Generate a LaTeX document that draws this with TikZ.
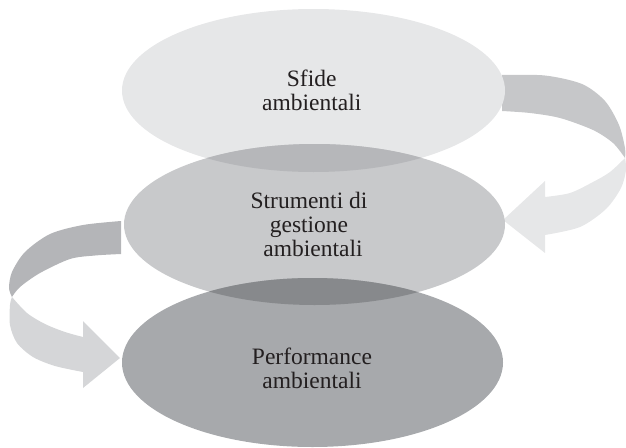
\documentclass[tikz,border=0pt]{standalone}
\usepackage{fontspec}
\setmainfont{Liberation Serif}
\usetikzlibrary{shapes.geometric}

% palette
\definecolor{ellTop}{HTML}{E6E7E8}
\definecolor{ellMid}{HTML}{C8C9CB}
\definecolor{ellBot}{HTML}{A7A9AC}
\definecolor{ovTop}{HTML}{B6B7BA}
\definecolor{ovBot}{HTML}{87898C}
\definecolor{ribRightBack}{HTML}{C6C7C9}
\definecolor{ribRightFront}{HTML}{E6E7E8}
\definecolor{ribLeftBack}{HTML}{B4B5B8}
\definecolor{ribLeftFront}{HTML}{D5D6D8}
\definecolor{ink}{HTML}{231F20}

\tikzset{
  stage/.style={ellipse, draw=none, inner sep=0pt},
  caption/.style={align=center, text=ink, inner sep=0pt,
    font=\fontsize{23.5}{24}\selectfont},
}

\begin{document}
\begin{tikzpicture}[x=1pt, y=-1pt]
\useasboundingbox (0,0) rectangle (626,447);

% ---- curved ribbon arrows (behind the ellipses) ----
% right loop: Sfide -> Strumenti
\fill[ribRightBack]
  plot[smooth] coordinates {(502,75) (545,75.5) (582,84) (605,101) (619,125) (625,148) (625,158)}
  -- plot[smooth] coordinates {(625,158) (613,143) (593,130) (560,118) (530,113) (502,111)}
  -- cycle;
\fill[ribRightFront]
  plot[smooth] coordinates {(625,158) (610,172) (593,182) (570,193) (545,197)}
  -- (545,181) -- (503,220) -- (545,253) -- (545,235)
  -- plot[smooth] coordinates {(545,235) (580,227) (606,209) (621,188) (626,170) (625,158)}
  -- cycle;

% left loop: Strumenti -> Performance
\fill[ribLeftBack]
  plot[smooth] coordinates {(121,221) (83,225) (50,234) (25,252) (12,272) (9,288) (12,297)}
  -- plot[smooth] coordinates {(12,297) (20,287) (40,273) (70,259) (95,255.5) (121,254)}
  -- cycle;
\fill[ribLeftFront]
  plot[smooth] coordinates {(12,297) (27,313) (45,324) (65,332) (83,337)}
  -- (83,321) -- (120,358) -- (83,388) -- (83,372)
  -- plot[smooth] coordinates {(83,372) (55,366) (33,357) (17,343) (10,325) (10,305) (12,297)}
  -- cycle;

% ---- stacked ellipses ----
\node[stage, fill=ellTop, minimum width=383pt, minimum height=163pt] (sfide) at (313.5,90.5) {};
\node[stage, fill=ellMid, minimum width=381pt, minimum height=161pt] (strumenti) at (314.5,224.5) {};
\node[stage, fill=ellBot, minimum width=381pt, minimum height=169pt] (performance) at (312.5,362.5) {};

% darker lens where neighbouring ellipses overlap
\begin{scope}
  \clip (sfide.center) ellipse [x radius=191.5, y radius=81.5];
  \fill[ovTop] (strumenti.center) ellipse [x radius=190.5, y radius=80.5];
\end{scope}
\begin{scope}
  \clip (strumenti.center) ellipse [x radius=190.5, y radius=80.5];
  \fill[ovBot] (performance.center) ellipse [x radius=190.5, y radius=84.5];
\end{scope}

% ---- captions ----
\node[caption] (sfideText) at (311.7,89.9) {Sfide\\ambientali};
\node[caption] (strumentiText) at (309,224.2) {Strumenti di\\gestione\hspace*{4.6pt}\\\hspace*{8pt}ambientali};
\node[caption] (performanceText) at (312,368) {Performance\\ambientali};
\end{tikzpicture}
\end{document}
